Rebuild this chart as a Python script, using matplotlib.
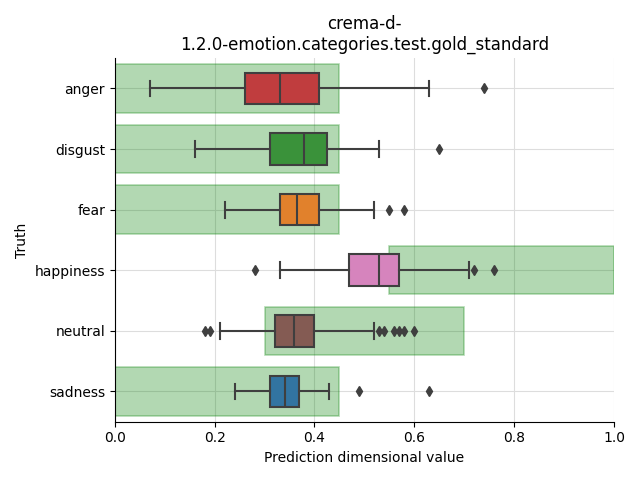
import numpy as np
import matplotlib
matplotlib.use("Agg")
import matplotlib.pyplot as plt

# ============ Data ===================

categories = ["anger", "disgust", "fear", "happiness", "neutral", "sadness"]

# box statistics
whislo = [0.07, 0.16, 0.22, 0.33, 0.21, 0.24]
q1 = [0.26, 0.31, 0.33, 0.47, 0.32, 0.31]
med = [0.33, 0.38, 0.365, 0.53, 0.36, 0.34]
q3 = [0.41, 0.425, 0.41, 0.57, 0.40, 0.37]
whishi = [0.63, 0.53, 0.52, 0.71, 0.52, 0.43]
fliers = [
    [0.74],
    [0.65],
    [0.55, 0.58],
    [0.28, 0.72, 0.76],
    [0.18, 0.19, 0.53, 0.54, 0.56, 0.57, 0.58, 0.60],
    [0.49, 0.63],
]

# expected range for each category (green band)
range_lo = [0.0, 0.0, 0.0, 0.55, 0.3, 0.0]
range_hi = [0.45, 0.45, 0.45, 1.0, 0.7, 0.45]

colors = ["#c03d3e", "#3a923a", "#e1812c", "#d684bd", "#845b53", "#3274a1"]

title = "crema-d-\n1.2.0-emotion.categories.test.gold_standard"
xlabel = "Prediction dimensional value"
ylabel = "Truth"

# =====================================

fig, ax = plt.subplots(figsize=(6.4, 4.8), dpi=100)

pos = np.arange(len(categories))

### Green bands
ax.barh(pos, np.array(range_hi) - np.array(range_lo), left=range_lo,
        height=0.8, color="green", alpha=0.3, edgecolor="green",
        linewidth=1.2, zorder=1)

### Boxes
stats = []
for i, c in enumerate(categories):
    stats.append(dict(label=c, whislo=whislo[i], q1=q1[i], med=med[i],
                      q3=q3[i], whishi=whishi[i], fliers=fliers[i]))

dark = "#3f3f3f"
bp = ax.bxp(stats, positions=pos, widths=0.52, orientation="horizontal",
            patch_artist=True, manage_ticks=False,
            boxprops=dict(edgecolor=dark, linewidth=1.5),
            medianprops=dict(color=dark, linewidth=1.5),
            whiskerprops=dict(color=dark, linewidth=1.5),
            capprops=dict(color=dark, linewidth=1.5),
            flierprops=dict(marker="d", markerfacecolor=dark,
                            markeredgecolor=dark, markersize=5))
for patch, color in zip(bp["boxes"], colors):
    patch.set_facecolor(color)
for key in bp:
    for artist in bp[key]:
        artist.set_zorder(3)

### Axes styling
ax.set_yticks(pos)
ax.set_yticklabels(categories)
ax.set_ylim(len(categories) - 0.5, -0.5)
ax.set_xlim(0, 1)
ax.grid(True, color="#dddddd", linewidth=0.8, zorder=0)
ax.set_axisbelow(True)
ax.spines["top"].set_visible(False)
ax.spines["right"].set_visible(False)

ax.set_title(title)
ax.set_xlabel(xlabel)
ax.set_ylabel(ylabel)

plt.tight_layout()
plt.savefig("out.png")
